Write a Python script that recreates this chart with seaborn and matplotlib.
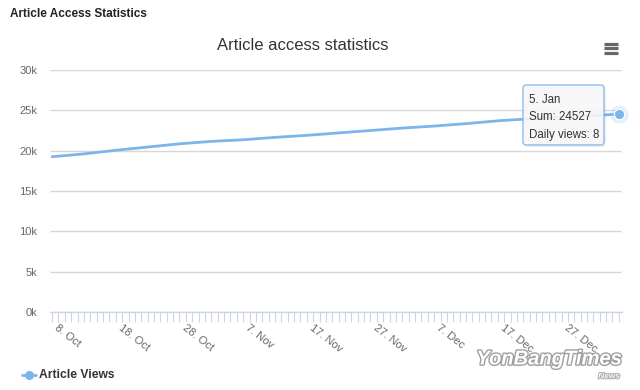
import numpy as np
import pandas as pd
import matplotlib
matplotlib.use('Agg')
import matplotlib.pyplot as plt
import matplotlib.dates as mdates
import matplotlib.patheffects as pe
from matplotlib.patches import FancyBboxPatch
from matplotlib.lines import Line2D
from matplotlib.transforms import IdentityTransform, ScaledTranslation
import seaborn as sns

# cumulative article views
dates = ['2018-10-08', '2018-10-13', '2018-10-18', '2018-10-23', '2018-10-28',
         '2018-11-02', '2018-11-07', '2018-11-12', '2018-11-17', '2018-11-22',
         '2018-11-27', '2018-12-02', '2018-12-07', '2018-12-12', '2018-12-17',
         '2018-12-22', '2018-12-27', '2019-01-01', '2019-01-05']
views = [19250, 19600, 20050, 20450, 20850,
         21150, 21350, 21650, 21900, 22200,
         22500, 22800, 23050, 23350, 23700,
         23950, 24150, 24350, 24527]
yticks = [0, 5000, 10000, 15000, 20000, 25000, 30000]
tooltip_lines = ['5. Jan', 'Sum: 24527', 'Daily views: 8']

df = pd.DataFrame({'date': pd.to_datetime(dates), 'views': views})

sns.set_theme(style='white')
plt.rcParams['font.family'] = ['Liberation Sans', 'DejaVu Sans']

line_col = '#7cb5ec'
W, H = 640, 390
fig = plt.figure(figsize=(6.4, 3.9), dpi=100)
fig.patch.set_facecolor('white')
ax = fig.add_axes([50 / W, 78 / H, 572 / W, 242 / H])

sns.lineplot(data=df, x='date', y='views', ax=ax, color=line_col, linewidth=2)

# hovered point with halo
last = df.iloc[-1]
ax.scatter([last['date']], [last['views']], s=170, color=line_col, alpha=0.2,
           linewidths=0, clip_on=False, zorder=4)
ax.scatter([last['date']], [last['views']], s=55, color=line_col,
           edgecolors='white', linewidths=0.8, clip_on=False, zorder=5)

ax.set_xlim(df['date'].iloc[0] - pd.Timedelta(hours=8),
            df['date'].iloc[-1] + pd.Timedelta(hours=12))
ax.set_ylim(0, 30000)
ax.set_yticks(yticks)
ax.set_yticklabels([f'{v // 1000}k' for v in yticks])
ax.yaxis.grid(True, color='#d8d8d8', linewidth=1)
ax.xaxis.grid(False)
ax.set_xlabel('')
ax.set_ylabel('')

major = pd.date_range('2018-10-08', '2019-01-05', freq='10D')
ax.set_xticks(major)
ax.set_xticklabels([f'{d.day}. {d.strftime("%b")}' for d in major])
ax.xaxis.set_minor_locator(mdates.DayLocator())
ax.tick_params(axis='x', which='both', direction='out', length=7.5, width=0.8,
               color='#ccd6eb', bottom=True, labelsize=8, labelcolor='#666666', pad=3)
ax.tick_params(axis='y', length=0, labelsize=8, labelcolor='#666666', pad=9)
shift = ScaledTranslation(3 / 72, 0, fig.dpi_scale_trans)
for lab in ax.get_xticklabels():
    lab.set_rotation(-38)
    lab.set_ha('left')
    lab.set_va('center')
    lab.set_rotation_mode('anchor')
    lab.set_transform(lab.get_transform() + shift)

for s in ['top', 'right', 'left']:
    ax.spines[s].set_visible(False)
ax.spines['bottom'].set_color('#ccd6eb')
ax.spines['bottom'].set_linewidth(1)

# headings
fig.text(10 / W, 1 - 14 / H, 'Article Access Statistics', fontsize=8.5,
         fontweight='bold', color='#222222', va='center')
fig.text(303 / W, 1 - 46 / H, 'Article access statistics', fontsize=12,
         color='#333333', ha='center', va='center')

# menu icon
for yy in [43.5, 48, 52.5]:
    fig.add_artist(Line2D([604 / W, 618 / W], [1 - yy / H, 1 - yy / H],
                          color='#666666', linewidth=2.3, solid_capstyle='butt',
                          transform=fig.transFigure))

# tooltip
shadow = FancyBboxPatch((525, H - 147), 81, 60, boxstyle='round,pad=0,rounding_size=3',
                        facecolor='#000000', alpha=0.06, edgecolor='none',
                        transform=IdentityTransform())
box = FancyBboxPatch((523, H - 145), 81, 60, boxstyle='round,pad=0,rounding_size=3',
                     facecolor='#f9f9f9', alpha=0.88, edgecolor=line_col,
                     linewidth=1, transform=IdentityTransform())
fig.patches.extend([shadow, box])
for i, t in enumerate(tooltip_lines):
    fig.text(529 / W, 1 - (100 + 17.5 * i) / H, t, fontsize=8.3, color='#333333',
             va='center')

# legend
fig.add_artist(Line2D([22 / W, 36 / W], [1 - 375 / H, 1 - 375 / H], color=line_col,
                      linewidth=2, transform=fig.transFigure))
fig.add_artist(Line2D([29 / W], [1 - 375 / H], color=line_col, marker='o',
                      markersize=5.5, transform=fig.transFigure))
fig.text(39 / W, 1 - 375 / H, 'Article Views', fontsize=8.7, fontweight='bold',
         color='#333333', va='center')

# watermark
fig.text(549 / W, 1 - 359 / H, 'YonBangTimes', fontsize=14.5, fontweight='bold',
         style='italic', color='white', ha='center', va='center',
         path_effects=[pe.withStroke(linewidth=2, foreground='#a0a0a0')])
fig.text(620 / W, 1 - 377 / H, 'News', fontsize=6, fontweight='bold', style='italic',
         color='white', ha='right', va='center',
         path_effects=[pe.withStroke(linewidth=1.2, foreground='#a0a0a0')])

fig.savefig('out.png', dpi=100)
